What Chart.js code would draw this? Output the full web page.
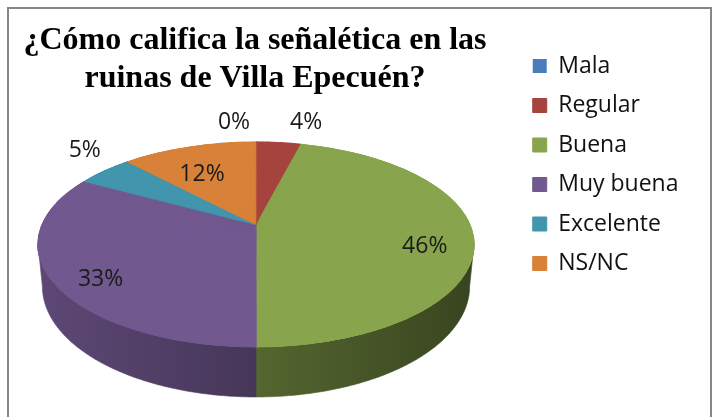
<!DOCTYPE html>
<html>
<head>
<meta charset="utf-8">
<script src="https://cdn.jsdelivr.net/npm/chart.js@4.4.0/dist/chart.umd.min.js"></script>
<style>
  html, body { margin: 0; padding: 0; background: #fff; }
</style>
</head>
<body>
<canvas id="graficoSenaletica" width="715" height="417"></canvas>
<script>
var categorias = ['Mala', 'Regular', 'Buena', 'Muy buena', 'Excelente', 'NS/NC'];
var porcentajes = [0, 4, 46, 33, 5, 12];
var colores = ['#4A7EBB', '#A5433F', '#88A54D', '#71588F', '#4195AD', '#D88138'];
var titulo = ['¿Cómo califica la señalética en las', 'ruinas de Villa Epecuén?'];

// disco visto en perspectiva: centro, semiejes, inclinacion y espesor
var VISTA = { cx: 256, cy: 225, a: 214, b: 98.8, p: 0.19, prof: 40.5 };
var FUENTE = '"Open Sans", "DejaVu Sans", sans-serif';

function proyectar(u, v) {
  var w = 1 - VISTA.p * v;
  return { x: VISTA.cx + VISTA.a * u / w, y: VISTA.cy + VISTA.b * v / w };
}

function oscurecer(hex, f) {
  var n = parseInt(hex.slice(1), 16);
  var r = Math.round(((n >> 16) & 255) * f);
  var g = Math.round(((n >> 8) & 255) * f);
  var b = Math.round((n & 255) * f);
  return 'rgb(' + r + ',' + g + ',' + b + ')';
}

// pared lateral visible de cada porcion
function dibujarLados(chart) {
  var ctx = chart.ctx;
  var arcos = chart.getDatasetMeta(0).data;
  var t0 = Math.asin(VISTA.p), t1 = Math.PI - t0;
  var izq = VISTA.cx - VISTA.a, der = VISTA.cx + VISTA.a;
  arcos.forEach(function (arco, i) {
    var s = Math.max(arco.startAngle, t0), e = Math.min(arco.endAngle, t1);
    if (e <= s) return;
    var pasos = Math.max(2, Math.ceil((e - s) / 0.01));
    var arriba = [], abajo = [];
    for (var k = 0; k <= pasos; k++) {
      var t = s + (e - s) * k / pasos;
      var v = Math.sin(t);
      var pt = proyectar(Math.cos(t), v);
      arriba.push(pt);
      abajo.push({ x: VISTA.cx + (pt.x - VISTA.cx) * 0.98, y: pt.y + VISTA.prof / (1 - VISTA.p * v) });
    }
    var g = ctx.createLinearGradient(izq, 0, der, 0);
    g.addColorStop(0, oscurecer(colores[i], 0.82));
    g.addColorStop(1, oscurecer(colores[i], 0.42));
    ctx.beginPath();
    arriba.forEach(function (p, k) { if (k) ctx.lineTo(p.x, p.y); else ctx.moveTo(p.x, p.y); });
    abajo.reverse().forEach(function (p) { ctx.lineTo(p.x, p.y); });
    ctx.closePath();
    ctx.fillStyle = g;
    ctx.fill();
    ctx.strokeStyle = g;
    ctx.lineWidth = 0.6;
    ctx.stroke();
  });
}

// tapa del disco: el pie de Chart.js dibujado por sectores con una transformacion afin cada uno
function dibujarTapa(chart) {
  var ctx = chart.ctx;
  var meta = chart.getDatasetMeta(0);
  var ref = meta.data[0];
  var R = ref.outerRadius, ox = ref.x, oy = ref.y;
  var ap = proyectar(0, 0);

  // base reducida para tapar costuras cerca del centro
  ctx.save();
  ctx.translate(ap.x, ap.y);
  ctx.scale(0.45 * VISTA.a / R, 0.45 * VISTA.b / R);
  ctx.translate(-ox, -oy);
  meta.controller.draw();
  ctx.restore();

  var N = 90, paso = 2 * Math.PI / N, solape = 0.04;
  for (var i = 0; i < N; i++) {
    var a = i * paso, b = a + paso;
    var ca = Math.cos(a), sa = Math.sin(a), cb = Math.cos(b), sb = Math.sin(b);
    var ha = proyectar(ca, sa), hb = proyectar(cb, sb);
    var hax = ha.x - ap.x, hay = ha.y - ap.y, hbx = hb.x - ap.x, hby = hb.y - ap.y;
    var det = Math.sin(paso);
    var m11 = (hax * sb - hbx * sa) / det, m12 = (hbx * ca - hax * cb) / det;
    var m21 = (hay * sb - hby * sa) / det, m22 = (hby * ca - hay * cb) / det;
    ctx.save();
    ctx.beginPath();
    ctx.moveTo(ap.x, ap.y);
    [a - solape, (a + b) / 2, b + solape].forEach(function (t) {
      var u = 1.3 * Math.cos(t), v = 1.3 * Math.sin(t);
      ctx.lineTo(ap.x + m11 * u + m12 * v, ap.y + m21 * u + m22 * v);
    });
    ctx.closePath();
    ctx.clip();
    ctx.transform(m11, m21, m12, m22, ap.x, ap.y);
    ctx.scale(1 / R, 1 / R);
    ctx.translate(-ox, -oy);
    meta.controller.draw();
    ctx.restore();
  }
}

function dibujarEtiquetas(chart) {
  var ctx = chart.ctx;
  var arcos = chart.getDatasetMeta(0).data;
  var ap = proyectar(0, 0);
  ctx.save();
  ctx.font = '23px ' + FUENTE;
  ctx.fillStyle = '#1a1a1a';
  ctx.textAlign = 'center';
  ctx.textBaseline = 'middle';
  var fuera = [];
  arcos.forEach(function (arco, i) {
    var txt = porcentajes[i] + '%';
    var m = (arco.startAngle + arco.endAngle) / 2;
    if (porcentajes[i] >= 10) {
      var q = proyectar(0.78 * Math.cos(m), 0.78 * Math.sin(m));
      ctx.fillText(txt, q.x, q.y + 12);
    } else {
      var r = proyectar(Math.cos(m), Math.sin(m));
      var dx = r.x - ap.x, dy = r.y - ap.y, n = Math.sqrt(dx * dx + dy * dy);
      fuera.push({ txt: txt, x: r.x + 21 * dx / n, y: r.y - 20, w: ctx.measureText(txt).width });
    }
  });
  // separar las etiquetas exteriores que se pisan
  fuera.sort(function (p, q) { return p.x - q.x; });
  for (var k = 1; k < fuera.length; k++) {
    var p = fuera[k - 1], q = fuera[k];
    var min = (p.w + q.w) / 2 + 40;
    if (Math.abs(p.y - q.y) < 30 && q.x - p.x < min) {
      var d = (min - (q.x - p.x)) / 2;
      p.x -= d;
      q.x += d;
    }
  }
  fuera.forEach(function (e) { ctx.fillText(e.txt, e.x, e.y); });
  ctx.restore();
}

var pie3d = {
  id: 'pie3d',
  beforeDraw: function (chart) {
    var ctx = chart.ctx;
    ctx.save();
    ctx.strokeStyle = '#878787';
    ctx.lineWidth = 2;
    ctx.strokeRect(8, 8, 703, 430);
    ctx.restore();
  },
  beforeDatasetsDraw: function (chart) {
    dibujarLados(chart);
    dibujarTapa(chart);
    return false;
  },
  afterDraw: function (chart) {
    var ctx = chart.ctx;
    dibujarEtiquetas(chart);
    ctx.save();
    ctx.font = 'bold 32px "Liberation Serif", "Times New Roman", serif';
    ctx.fillStyle = '#000';
    ctx.textAlign = 'center';
    ctx.textBaseline = 'alphabetic';
    ctx.fillText(titulo[0], 255, 49);
    ctx.fillText(titulo[1], 255, 87);
    ctx.restore();
  }
};

var ctx = document.getElementById('graficoSenaletica').getContext('2d');
var grafico = new Chart(ctx, {
  type: 'pie',
  data: {
    labels: categorias,
    datasets: [{
      data: porcentajes,
      backgroundColor: colores,
      borderColor: colores,
      borderWidth: function (c) { return c.raw > 0 ? 1 : 0; },
      clip: false
    }]
  },
  options: {
    responsive: false,
    animation: false,
    events: [],
    layout: { padding: { top: 38, right: 26.5, bottom: 10, left: 10 } },
    plugins: {
      title: { display: false },
      tooltip: { enabled: false },
      legend: {
        position: 'right',
        align: 'start',
        labels: {
          boxWidth: 14,
          boxHeight: 14,
          padding: 16.5,
          color: '#111',
          font: { family: FUENTE, size: 23 }
        }
      }
    }
  },
  plugins: [pie3d]
});
</script>
</body>
</html>
